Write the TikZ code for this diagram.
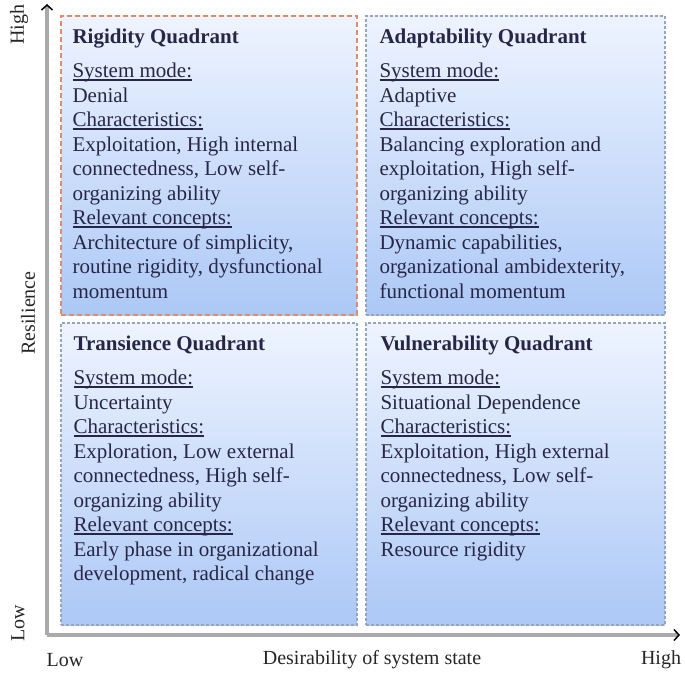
\documentclass[tikz,border=0pt]{standalone}
\usepackage{fontspec}
\setmainfont{Liberation Serif}
\usetikzlibrary{arrows.meta, calc, fit, positioning}
\definecolor{qtop}{RGB}{238,244,255}
\definecolor{qbot}{RGB}{172,200,246}
\definecolor{redge}{RGB}{222,140,110}
\definecolor{bedge}{RGB}{150,165,190}
\definecolor{qtext}{RGB}{40,38,70}
\definecolor{axgray}{RGB}{170,170,170}
\newcommand{\hd}[1]{\setbox0\hbox{#1}\rlap{\rule[-3.5pt]{\wd0}{1.8pt}}\box0}
\tikzset{
    quad/.style = {draw=bedge, line width=1.3pt, dash pattern=on 3pt off 2pt,
                   top color=qtop, bottom color=qbot, inner sep=0pt},
    quadR/.style = {quad, draw=redge, dash pattern=on 5pt off 3pt}, % top left one has the red border
    qtxt/.style = {anchor=north west, align=left, inner sep=0pt, text=qtext,
                   font=\fontsize{21}{24.5}\selectfont},
    axis/.style = {draw=axgray, line width=3.5pt,
                   -{Straight Barb[color=black, length=5pt, width=11pt, line width=1.5pt]}},
    axlab/.style = {font=\fontsize{20}{24}\selectfont, text=black!85}
}
\begin{document}
\begin{tikzpicture}[x=1pt, y=-1pt]
  \useasboundingbox (0,0) rectangle (685,674);
  % axes
  \coordinate (orig) at (47,635);
  \coordinate (ytop) at (47,4);
  \coordinate (xend) at (680,635);
  \draw[axis] (orig) -- (ytop);
  \draw[axis] (orig) -- (xend);
  \node[axlab, rotate=90] (yhigh) at (19,25) {High};
  \node[axlab, rotate=90] (ylab) at (28,313) {Resilience};
  \node[axlab, rotate=90] (ylow) at (18,623) {Low};
  \node[axlab] (xlow) at (65,660) {Low};
  \node[axlab] (xlab) at (372,660) {Desirability of system state};
  \node[axlab] (xhigh) at (661,660) {High};
  % quadrants
  \node[quadR, fit={(61,16) (357,315)}] (rig) {};
  \node[quad, fit={(366,16) (665,315)}] (ada) {};
  \node[quad, fit={(61,323) (357,625)}] (tra) {};
  \node[quad, fit={(366,323) (665,625)}] (vul) {};
  \node[qtxt] (rigtxt) at ($(rig.north west)+(12,13)$)
    {{\bfseries Rigidity Quadrant}\\[10pt]
     \hd{System mode:}\\
     Denial\\
     \hd{Characteristics:}\\
     Exploitation, High internal\\
     connectedness, Low self-\\
     organizing ability\\
     \hd{Relevant concepts:}\\
     Architecture of simplicity,\\
     routine rigidity, dysfunctional\\
     momentum};
  \node[qtxt] (adatxt) at ($(ada.north west)+(14,13)$)
    {{\bfseries Adaptability Quadrant}\\[10pt]
     \hd{System mode:}\\
     Adaptive\\
     \hd{Characteristics:}\\
     Balancing exploration and\\
     exploitation, High self-\\
     organizing ability\\
     \hd{Relevant concepts:}\\
     Dynamic capabilities,\\
     organizational ambidexterity,\\
     functional momentum};
  \node[qtxt] (tratxt) at ($(tra.north west)+(13,13)$)
    {{\bfseries Transience Quadrant}\\[10pt]
     \hd{System mode:}\\
     Uncertainty\\
     \hd{Characteristics:}\\
     Exploration, Low external\\
     connectedness, High self-\\
     organizing ability\\
     \hd{Relevant concepts:}\\
     Early phase in organizational\\
     development, radical change};
  \node[qtxt] (vultxt) at ($(vul.north west)+(15,13)$)
    {{\bfseries Vulnerability Quadrant}\\[10pt]
     \hd{System mode:}\\
     Situational Dependence\\
     \hd{Characteristics:}\\
     Exploitation, High external\\
     connectedness, Low self-\\
     organizing ability\\
     \hd{Relevant concepts:}\\
     Resource rigidity};
\end{tikzpicture}
\end{document}
